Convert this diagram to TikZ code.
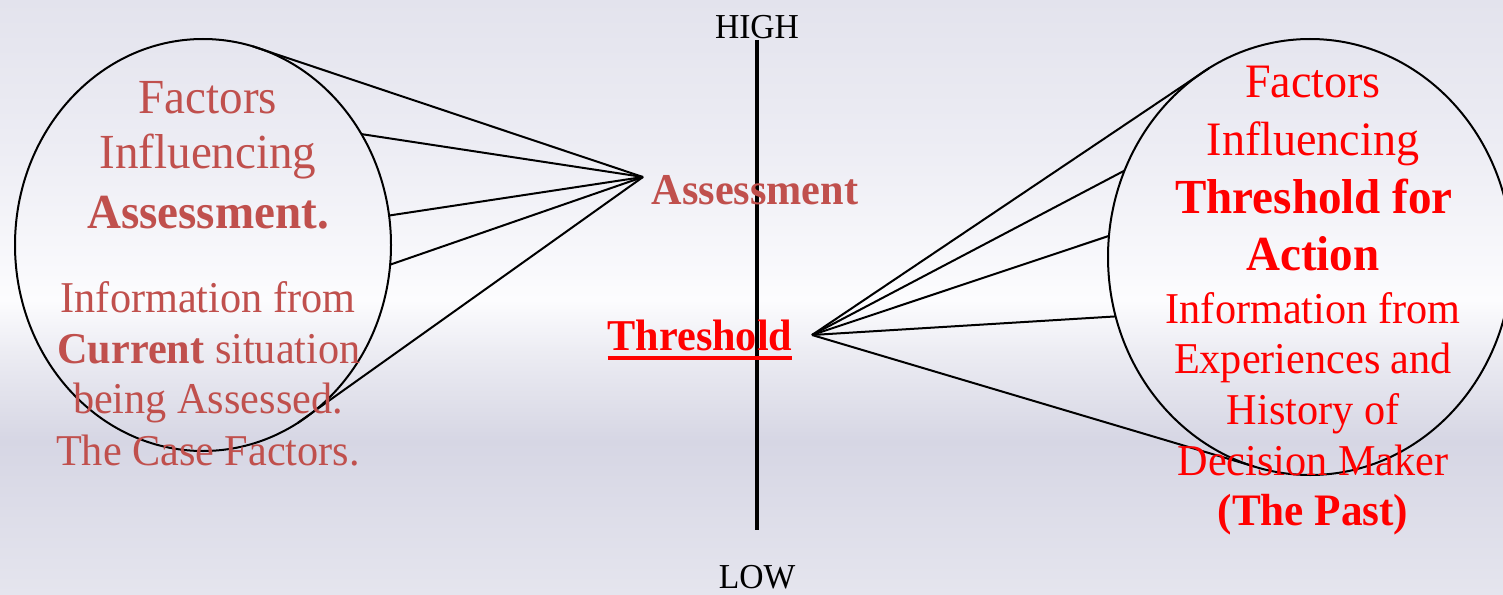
\documentclass[tikz,border=0pt]{standalone}
\usepackage{fontspec}
\setmainfont{Liberation Serif}[FakeStretch=0.96]
\usetikzlibrary{shapes.geometric}
\definecolor{acc}{HTML}{C0504D}
\definecolor{hot}{HTML}{FF0000}
\definecolor{bgA}{HTML}{E3E3ED}
\definecolor{bgB}{HTML}{EDEDF4}
\definecolor{bgC}{HTML}{FCFCFE}
\definecolor{bgD}{HTML}{EEEEF4}
\definecolor{bgE}{HTML}{D6D6E4}
\definecolor{bgF}{HTML}{E5E5EE}
\begin{document}
\begin{tikzpicture}[x=1pt,y=-1pt,
  ln/.style={inner sep=0pt, outer sep=0pt, anchor=base},
  bigL/.style={ln, text=acc, font=\fontsize{49}{57}\selectfont},
  smlL/.style={ln, text=acc, font=\fontsize{44}{51}\selectfont},
  bigR/.style={ln, text=hot, font=\fontsize{48}{57}\selectfont},
  boldR/.style={ln, text=hot, font=\fontsize{49}{57}\selectfont\bfseries},
  smlR/.style={ln, text=hot, font=\fontsize{44}{51}\selectfont},
  axlab/.style={ln, text=black, font=\fontsize{35}{40}\selectfont},
  bubble/.style={draw=black, ellipse, line width=2pt, inner sep=0pt, outer sep=0pt},
  fan/.style={draw=black, line width=2pt},
  axis/.style={draw=black, line width=3.8pt}]
\useasboundingbox (0,0) rectangle (1503,594);
% background
\shade[top color=bgA, bottom color=bgB] (0,0) rectangle (1503,151);
\shade[top color=bgB, bottom color=bgC] (0,150) rectangle (1503,301);
\shade[top color=bgC, bottom color=bgD] (0,300) rectangle (1503,346);
\shade[top color=bgD, bottom color=bgE] (0,345) rectangle (1503,441);
\shade[top color=bgE, bottom color=bgF] (0,440) rectangle (1503,594);

% axis
\coordinate (axtop) at (757,40);
\coordinate (axbot) at (757,530);
\draw[axis] (axtop) -- (axbot);
\node[axlab] (high) at (757,38) {HIGH};
\node[axlab] (low) at (757,588) {LOW};

% bubbles
\node[bubble, minimum width=376pt, minimum height=412pt] (L) at (203,245) {};
\node[bubble, minimum width=404pt, minimum height=436pt] (R) at (1310,257) {};

% apex points
\coordinate (A) at (643,177);
\coordinate (T) at (812,335);
\foreach \a in {76,35.2,9.7,-6.1,-62.4} \draw[fan] (L.\a) -- (A);
\foreach \a in {118.8,155.7,174.3,197,255.6} \draw[fan] (R.\a) -- (T);

% labels on the axis
\node[ln, text=acc, font=\fontsize{44}{50}\selectfont\bfseries] (assess) at (755,204) {Assessment};
\node[ln, text=hot, font=\fontsize{44}{50}\selectfont\bfseries] (thr) at (700,350) {Threshold};
\draw[hot, line width=3.5pt] ([yshift=-8pt]thr.base west) -- ([yshift=-8pt]thr.base east);

% left bubble text
\node[bigL] (l1) at (208,113) {Factors};
\node[bigL] (l2) at (208,168) {Influencing};
\node[bigL, font=\fontsize{49}{57}\selectfont\bfseries] (l3) at (208,228) {Assessment.};
\node[smlL] (l4) at (208,312) {Information from};
\node[smlL] (l5) at (209,363) {\textbf{Current} situation};
\node[smlL] (l6) at (208,413) {being Assessed.};
\node[smlL] (l7) at (208,465) {The Case Factors.};

% right bubble text
\node[bigR] (r1) at (1313,97) {Factors};
\node[bigR] (r2) at (1313,155) {Influencing};
\node[boldR] (r3) at (1314,213) {Threshold for};
\node[boldR] (r4) at (1313,270) {Action};
\node[smlR] (r5) at (1313,323) {Information from};
\node[smlR] (r6) at (1313,373) {Experiences and};
\node[smlR] (r7) at (1313,424) {History of};
\node[smlR] (r8) at (1313,475) {Decision Maker};
\node[smlR, font=\fontsize{45}{51}\selectfont\bfseries] (r9) at (1313,525) {(The Past)};
\end{tikzpicture}
\end{document}
